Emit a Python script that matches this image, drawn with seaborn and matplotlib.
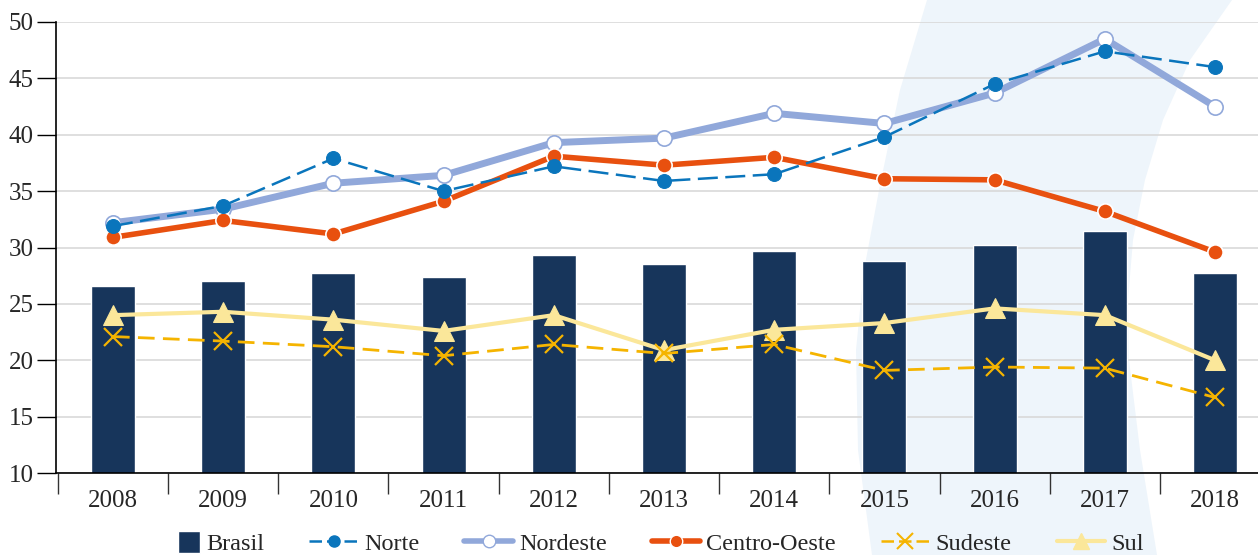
import numpy as np
import pandas as pd
import matplotlib
matplotlib.use("Agg")
import matplotlib.pyplot as plt
import seaborn as sns
from matplotlib.patches import Polygon, Rectangle, Patch
from matplotlib.lines import Line2D
from matplotlib.legend_handler import HandlerPatch

# -- data ---------------------------------------------------------------
years = ["2008", "2009", "2010", "2011", "2012", "2013",
         "2014", "2015", "2016", "2017", "2018"]
brasil = [26.6, 27.0, 27.7, 27.4, 29.3, 28.5, 29.7, 28.8, 30.2, 31.5, 27.7]
norte = [31.9, 33.7, 37.9, 35.0, 37.2, 35.9, 36.5, 39.8, 44.5, 47.4, 46.0]
nordeste = [32.2, 33.4, 35.7, 36.4, 39.3, 39.7, 41.9, 41.0, 43.7, 48.5, 42.5]
centro_oeste = [30.9, 32.4, 31.2, 34.1, 38.1, 37.3, 38.0, 36.1, 36.0, 33.2, 29.6]
sudeste = [22.1, 21.7, 21.2, 20.4, 21.4, 20.6, 21.4, 19.1, 19.4, 19.3, 16.7]
sul = [24.0, 24.3, 23.6, 22.6, 24.0, 20.9, 22.7, 23.3, 24.6, 24.0, 20.0]

C_BRASIL = "#17355b"
C_NORTE = "#0a75bc"
C_NORDESTE = "#91a8da"
C_CO = "#e8500f"
C_SUDESTE = "#f5b400"
C_SUL = "#fbe79a"

sns.set_theme(style="white")
plt.rcParams["font.family"] = ["Liberation Serif", "DejaVu Serif"]

W, H = 1258, 555
fig = plt.figure(figsize=(W / 100, H / 100), dpi=100)

# decorative background arc (pixel outline, converted to figure coords)
arc_px = [(927, 0), (900, 90), (880, 185), (864, 270), (856, 350),
          (858, 450), (872, 555), (1157, 555), (1140, 450), (1129, 360),
          (1128, 300), (1133, 240), (1145, 180), (1163, 120), (1190, 60),
          (1232, 0)]
arc = Polygon([(x / W, 1 - y / H) for x, y in arc_px], closed=True,
              transform=fig.transFigure, facecolor="#eef5fb",
              edgecolor="none", zorder=-10)
fig.patches.append(arc)

ax = fig.add_axes([56 / W, 1 - 473 / H, 1 - 56 / W, (473 - 22) / H])
ax.set_zorder(1)
ax.patch.set_alpha(0)

df = pd.DataFrame({"ano": years, "Brasil": brasil})
sns.barplot(data=df, x="ano", y="Brasil", color=C_BRASIL, width=0.4,
            saturation=1, ax=ax, zorder=2)

idx = np.arange(len(years))
sns.lineplot(x=idx, y=nordeste, color=C_NORDESTE, lw=5, marker="o", ms=11,
             mfc="white", mec=C_NORDESTE, mew=1.2, ax=ax, zorder=4)
sns.lineplot(x=idx, y=norte, color=C_NORTE, lw=1.8, ls=(0, (8, 3)), marker="o",
             ms=10, mec=C_NORTE, ax=ax, zorder=5)
sns.lineplot(x=idx, y=centro_oeste, color=C_CO, lw=4, marker="o", ms=11,
             mec="white", mew=1.2, ax=ax, zorder=4)
sns.lineplot(x=idx, y=sul, color=C_SUL, lw=3, marker="^", ms=14,
             mec=C_SUL, ax=ax, zorder=4)
sns.lineplot(x=idx, y=sudeste, color=C_SUDESTE, lw=2, ls=(0, (6, 3)),
             marker="x", ms=13, mew=1.6, mec=C_SUDESTE, ax=ax, zorder=5)

ax.set_xlabel("")
ax.set_ylabel("")
ax.set_yticks(range(10, 51, 5))
ax.set_xticks(idx)
ax.set_xticklabels(years)
ax.set_xticks(np.arange(-0.5, 10, 1), minor=True)
ax.set_ylim(10, 50)
ax.set_xlim(-0.517, 10.39)
ax.yaxis.grid(True, color="#d9d9d9", lw=1.2, zorder=0)
ax.set_axisbelow(True)

for s in ["top", "right"]:
    ax.spines[s].set_visible(False)
for s in ["left", "bottom"]:
    ax.spines[s].set_color("black")
    ax.spines[s].set_linewidth(1.2)

ax.tick_params(axis="y", which="major", direction="out", length=14,
               width=1, color="black", labelsize=18, pad=2, left=True)
ax.tick_params(axis="x", which="major", length=0, labelsize=18, pad=12)
ax.tick_params(axis="x", which="minor", direction="out", length=15,
               width=1, color="#333333", bottom=True)


def square_patch(legend, orig_handle, xdescent, ydescent, width, height,
                 fontsize):
    side = height * 1.2
    return Rectangle((width - side, -ydescent - (side - height) / 2),
                     side, side)


handles = [
    Patch(facecolor=C_BRASIL, label="Brasil"),
    Line2D([], [], color=C_NORTE, lw=1.8, ls=(0, (5, 2)), marker="o", ms=8,
           label="Norte"),
    Line2D([], [], color=C_NORDESTE, lw=4, marker="o", ms=9, mfc="white",
           mec=C_NORDESTE, label="Nordeste"),
    Line2D([], [], color=C_CO, lw=4, marker="o", ms=9, mec="white",
           label="Centro-Oeste"),
    Line2D([], [], color=C_SUDESTE, lw=1.8, ls=(0, (5, 2)), marker="x", ms=11,
           mew=1.5, label="Sudeste"),
    Line2D([], [], color=C_SUL, lw=3, marker="^", ms=12, label="Sul"),
]
fig.legend(handles=handles, loc="lower center", ncol=6,
           bbox_to_anchor=(0.515, -0.04), frameon=False, fontsize=17.5,
           handlelength=2.0, handletextpad=0.25, columnspacing=1.85,
           handleheight=0.8,
           handler_map={Patch: HandlerPatch(patch_func=square_patch)})

fig.savefig("out.png", dpi=100)
